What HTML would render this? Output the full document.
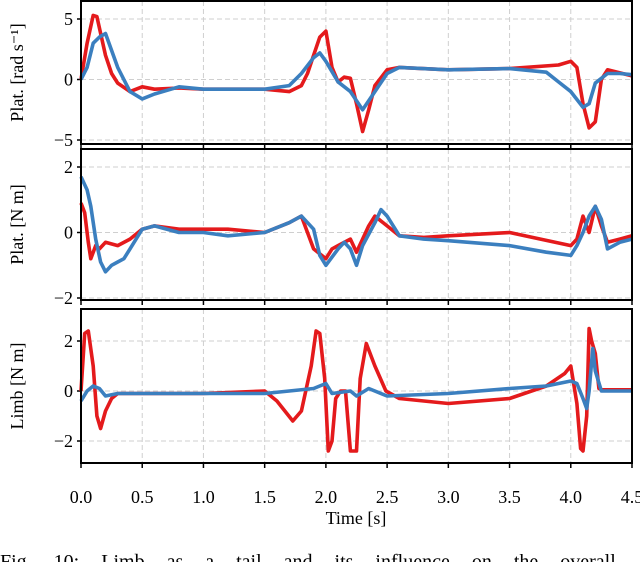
<!DOCTYPE html>
<html><head><meta charset="utf-8">
<style>
html,body{margin:0;padding:0;background:#fff;overflow:hidden}
svg{display:block;font-family:"Liberation Serif",serif}
</style></head>
<body>
<svg id="chart" width="640" height="562" viewBox="0 0 640 562"></svg>
<script>
const xTicks=[0,0.5,1,1.5,2,2.5,3,3.5,4,4.5];
const xTickLabels=["0.0","0.5","1.0","1.5","2.0","2.5","3.0","3.5","4.0","4.5"];
const p1Ticks=[-5,0,5];
const p2Ticks=[-2,0,2];
const p3Ticks=[-2,0,2];
const p1RedT=[0,0.05,0.1,0.13,0.2,0.25,0.3,0.4,0.5,0.6,0.8,1.0,1.2,1.5,1.7,1.8,1.85,1.9,1.95,2.0,2.05,2.1,2.15,2.2,2.25,2.3,2.35,2.4,2.5,2.6,3.0,3.5,3.9,4.0,4.05,4.1,4.15,4.2,4.25,4.3,4.5];
const p1RedV=[0,3,5.3,5.2,2,0.5,-0.3,-1,-0.6,-0.8,-0.7,-0.8,-0.8,-0.8,-1,-0.5,0.5,2,3.5,4,1,-0.2,0.2,0.1,-2,-4.3,-2.5,-0.5,0.8,1,0.8,0.9,1.2,1.5,1,-2,-4,-3.5,0,0.8,0.3];
const p1BlueT=[0,0.05,0.1,0.15,0.2,0.3,0.4,0.5,0.6,0.8,1.0,1.5,1.7,1.8,1.9,1.95,2.0,2.1,2.2,2.3,2.4,2.5,2.6,3.0,3.5,3.8,3.9,4.0,4.1,4.15,4.2,4.3,4.4,4.5];
const p1BlueV=[0,1,3,3.5,3.8,1,-1,-1.6,-1.2,-0.6,-0.8,-0.8,-0.5,0.5,1.8,2.2,1.5,-0.2,-1,-2.5,-1,0.5,1,0.8,0.9,0.6,-0.2,-1,-2.3,-2,-0.3,0.5,0.5,0.4];
const p2RedT=[0,0.03,0.06,0.08,0.12,0.15,0.2,0.3,0.4,0.5,0.6,0.8,1.0,1.2,1.5,1.7,1.8,1.85,1.9,2.0,2.05,2.1,2.2,2.25,2.3,2.35,2.4,2.5,2.6,2.8,3.0,3.5,4.0,4.05,4.1,4.15,4.2,4.25,4.3,4.4,4.5];
const p2RedV=[0.9,0.6,-0.3,-0.8,-0.4,-0.5,-0.3,-0.4,-0.2,0.1,0.2,0.1,0.1,0.1,0,0.3,0.5,0,-0.5,-0.8,-0.5,-0.4,-0.2,-0.6,-0.2,0.2,0.5,0.2,-0.1,-0.15,-0.1,0,-0.4,-0.2,0.5,0,0.8,0.2,-0.3,-0.2,-0.1];
const p2BlueT=[0,0.05,0.08,0.12,0.16,0.2,0.25,0.3,0.35,0.4,0.5,0.6,0.8,1.0,1.2,1.5,1.7,1.8,1.9,1.95,2.0,2.1,2.15,2.2,2.25,2.3,2.4,2.45,2.5,2.6,2.8,3.0,3.5,3.8,4.0,4.05,4.1,4.15,4.2,4.25,4.3,4.4,4.5];
const p2BlueV=[1.7,1.3,0.8,-0.2,-0.9,-1.2,-1.0,-0.9,-0.8,-0.5,0.1,0.2,0,0,-0.1,0,0.3,0.5,0.1,-0.7,-1.0,-0.5,-0.3,-0.5,-1.0,-0.4,0.3,0.7,0.5,-0.1,-0.2,-0.25,-0.4,-0.6,-0.7,-0.4,0,0.5,0.8,0.4,-0.5,-0.3,-0.2];
const p3RedT=[0,0.03,0.06,0.1,0.13,0.16,0.2,0.25,0.3,0.4,0.6,1.0,1.5,1.6,1.73,1.8,1.88,1.92,1.95,1.99,2.02,2.05,2.08,2.12,2.16,2.2,2.22,2.25,2.28,2.33,2.4,2.49,2.6,3.0,3.5,3.8,3.95,4.0,4.05,4.08,4.1,4.13,4.15,4.17,4.2,4.23,4.25,4.3,4.5];
const p3RedV=[0,2.3,2.4,1.0,-1.0,-1.5,-0.8,-0.3,-0.1,-0.1,-0.1,-0.1,0,-0.4,-1.2,-0.8,1.0,2.4,2.3,0.5,-2.4,-2.0,-0.3,0,0,-2.4,-2.4,-2.4,0.5,1.9,1.0,0,-0.3,-0.5,-0.3,0.2,0.7,1.0,-0.5,-2.3,-2.4,-1.0,2.5,2.0,1.5,0.1,0.05,0.05,0.05];
const p3BlueT=[0,0.05,0.1,0.15,0.2,0.3,0.5,1.0,1.5,1.7,1.9,2.0,2.05,2.2,2.25,2.35,2.5,3.0,3.5,3.8,4.0,4.05,4.1,4.13,4.15,4.18,4.2,4.25,4.3,4.5];
const p3BlueV=[-0.4,0,0.2,0.1,-0.2,-0.1,-0.1,-0.1,-0.1,0,0.1,0.3,-0.1,0,-0.2,0.1,-0.2,-0.1,0.1,0.2,0.4,0.3,-0.3,-0.7,0,1.7,0.8,0,0,0];

const NS="http://www.w3.org/2000/svg";
const svg=document.getElementById('chart');
const X0=81,X1=632;
function xs(t){return X0+(t-0)/(4.5)*(X1-X0);}
function mk(tag,attrs,parent){const e=document.createElementNS(NS,tag);for(const k in attrs)e.setAttribute(k,attrs[k]);(parent||svg).appendChild(e);return e;}
const panels=[
 {name:'platform-velocity',top:1,bot:144,v0:5,y0:19,v1:-5,y1:140,ticks:p1Ticks,label:'Plat.  [rad s\u207B\u00B9]',series:[[p1RedT,p1RedV,'#e41a1c'],[p1BlueT,p1BlueV,'#3b7fbf']]},
 {name:'platform-torque',top:149,bot:300,v0:2,y0:167,v1:-2,y1:298,ticks:p2Ticks,label:'Plat.  [N m]',series:[[p2RedT,p2RedV,'#e41a1c'],[p2BlueT,p2BlueV,'#3b7fbf']]},
 {name:'limb-torque',top:309,bot:463,v0:2,y0:341,v1:-2,y1:441,ticks:p3Ticks,label:'Limb [N m]',series:[[p3RedT,p3RedV,'#e41a1c'],[p3BlueT,p3BlueV,'#3b7fbf']]}
];
panels.forEach((p,pi)=>{
 const g=mk('g',{});
 
 
 const ys=v=>p.y0+(v-p.v0)/(p.v1-p.v0)*(p.y1-p.y0);
 xTicks.forEach(t=>{const l=mk('line',{x1:xs(t),x2:xs(t),y1:p.top,y2:p.bot,stroke:'#cfcfcf','stroke-width':1,'stroke-dasharray':'5,3'},g);
  });
 p.ticks.forEach(v=>{const y=ys(v);
  const l=mk('line',{x1:X0,x2:X1,y1:y,y2:y,stroke:'#cfcfcf','stroke-width':1,'stroke-dasharray':'5,3'},g);
  
  const tk=mk('line',{x1:X0-4,x2:X0,y1:y,y2:y,stroke:'#000','stroke-width':1.5},g);
  
  const tx=mk('text',{x:X0-8,y:y+6,'text-anchor':'end','font-size':18},g);
  tx.textContent=(v<0?'\u2212':'')+Math.abs(v);
  
 });
 p.series.forEach((s,si)=>{
  const d=s[0].map((t,i)=>(i?'L':'M')+xs(t).toFixed(1)+','+ys(s[1][i]).toFixed(1)).join('');
  const path=mk('path',{d:d,fill:'none',stroke:s[2],'stroke-width':3.6,'stroke-linejoin':'round'},g);
  
  
 });
 const r=mk('rect',{x:X0,y:p.top,width:X1-X0,height:p.bot-p.top,fill:'none',stroke:'#000','stroke-width':2},g);
 
 xTicks.forEach(t=>{const tk=mk('line',{x1:xs(t),x2:xs(t),y1:p.bot,y2:p.bot+5,stroke:'#000','stroke-width':1.5},g);
  });
 const cy=(p.top+p.bot)/2;
 const yl=mk('text',{x:0,y:0,transform:'translate(23,'+cy+') rotate(-90)','text-anchor':'middle','font-size':18},g);
 yl.textContent=p.label;
 yl.setAttribute('xml:space','preserve');
 
});
xTicks.forEach((t,i)=>{const tx=mk('text',{x:xs(t),y:503,'text-anchor':'middle','font-size':18});
 tx.textContent=xTickLabels[i];
 });
const xt=mk('text',{x:356,y:524,'text-anchor':'middle','font-size':18});
xt.textContent='Time [s]';

const cap=mk('text',{x:0,y:568,'font-size':20,'word-spacing':'17'});
cap.textContent='Fig. 10: Limb as a tail and its influence on the overall';

</script>
</body></html>
